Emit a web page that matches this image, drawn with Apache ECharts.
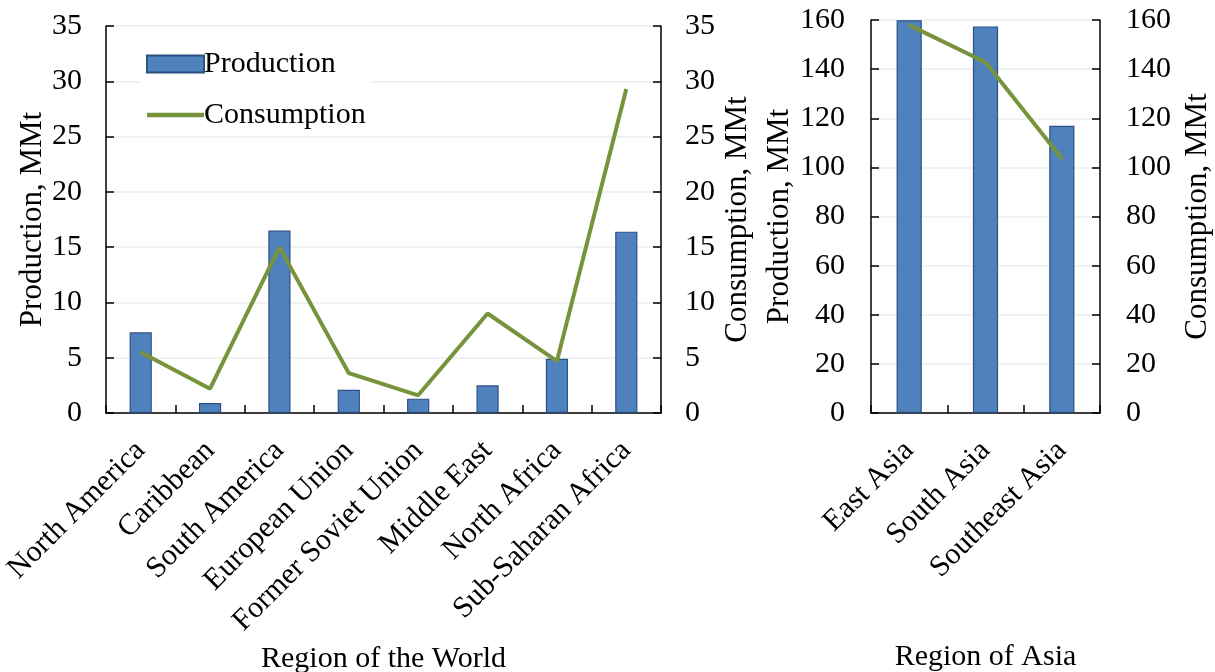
<!DOCTYPE html>
<html>
<head>
<meta charset="utf-8">
<script src="https://cdn.jsdelivr.net/npm/echarts@6/dist/echarts.min.js"></script>
<style>html,body{margin:0;padding:0;background:#fff}#c{width:1215px;height:672px}</style>
</head>
<body>
<div id="c"></div>
<script>
const worldCategories = ['North America','Caribbean','South America','European Union','Former Soviet Union','Middle East','North Africa','Sub-Saharan Africa'];
const worldProduction = [7.3, 0.9, 16.5, 2.1, 1.3, 2.5, 4.9, 16.4];
const worldConsumption = [5.5, 2.2, 15.0, 3.6, 1.6, 9.0, 4.7, 29.3];
const asiaCategories = ['East Asia','South Asia','Southeast Asia'];
const asiaProduction = [159.9, 157.4, 116.9];
const asiaConsumption = [157.9, 142.8, 103.6];
const worldAxis = {min: 0, max: 35, interval: 5};
const asiaAxis = {min: 0, max: 160, interval: 20};

const FONT = 'Liberation Serif';
const FS = 30;
const barColor = '#4f81bd', barBorder = '#2c5283', lineColor = '#77933c';

function yAxis(gridIndex, pos, ax, name, nameGap, labelMargin) {
  return {
    type: 'value', gridIndex, position: pos, min: ax.min, max: ax.max, interval: ax.interval,
    name, nameLocation: 'middle', nameGap, nameRotate: 90,
    nameTextStyle: {fontFamily: FONT, fontSize: 31, color: '#000'},
    axisLine: {show: true, lineStyle: {color: '#000', width: 1.5}},
    axisTick: {show: true, inside: true, length: 8, lineStyle: {color: '#000', width: 1.5}},
    axisLabel: {fontFamily: FONT, fontSize: FS, color: '#000', margin: labelMargin},
    splitLine: {show: pos === 'left', lineStyle: {color: '#ececec', width: 1.5}}
  };
}
function xAxis(gridIndex, cats, name, nameGap) {
  return {
    type: 'category', gridIndex, data: cats, boundaryGap: true,
    name, nameLocation: 'middle', nameGap,
    nameTextStyle: {fontFamily: FONT, fontSize: FS, color: '#000'},
    axisLine: {show: true, lineStyle: {color: '#000', width: 1.5}},
    axisTick: {show: true, inside: true, length: 8, alignWithLabel: false, lineStyle: {color: '#000', width: 1.5}},
    axisLabel: {fontFamily: FONT, fontSize: FS, color: '#000', rotate: 45, margin: 33, interval: 0}
  };
}

const chart = echarts.init(document.getElementById('c'), null, {renderer: 'canvas'});
chart.setOption({
  animation: false,
  backgroundColor: '#fff',
  grid: [
    {left: 106, right: 1215 - 661, top: 26, bottom: 672 - 413, outerBoundsMode: 'none', containLabel: false},
    {left: 871, right: 1215 - 1100, top: 20, bottom: 672 - 413, outerBoundsMode: 'none', containLabel: false}
  ],
  legend: {
    orient: 'vertical', left: 140, top: 45, itemWidth: 57, itemHeight: 17, itemGap: 21,
    backgroundColor: '#fff', padding: [4, 6, 4, 6],
    textStyle: {fontFamily: FONT, fontSize: FS, color: '#000', padding: [0, 0, 0, -5]},
    data: [
      {name: 'Production', icon: 'rect'},
      {name: 'Consumption', icon: 'path://M0,0 L57,0 L57,4.5 L0,4.5 Z', itemStyle: {color: lineColor}}
    ]
  },
  xAxis: [
    xAxis(0, worldCategories, 'Region of the World', 229),
    xAxis(1, asiaCategories, 'Region of Asia', 229)
  ],
  yAxis: [
    yAxis(0, 'left', worldAxis, 'Production, MMt', 58, 24),
    yAxis(0, 'right', worldAxis, 'Consumption, MMt', 61, 24),
    yAxis(1, 'left', asiaAxis, 'Production, MMt', 76, 26),
    yAxis(1, 'right', asiaAxis, 'Consumption, MMt', 82, 26)
  ],
  series: [
    {name: 'Production', type: 'bar', xAxisIndex: 0, yAxisIndex: 0, data: worldProduction, barWidth: '32%',
     itemStyle: {color: barColor, borderColor: barBorder, borderWidth: 1.2}},
    {name: 'Consumption', type: 'line', xAxisIndex: 0, yAxisIndex: 1, data: worldConsumption, symbol: 'none',
     lineStyle: {color: lineColor, width: 4}, itemStyle: {color: lineColor}},
    {name: 'Production', type: 'bar', xAxisIndex: 1, yAxisIndex: 2, data: asiaProduction, barWidth: '33%',
     itemStyle: {color: barColor, borderColor: barBorder, borderWidth: 1.2}},
    {name: 'Consumption', type: 'line', xAxisIndex: 1, yAxisIndex: 3, data: asiaConsumption, symbol: 'none',
     lineStyle: {color: lineColor, width: 4}, itemStyle: {color: lineColor}}
  ]
});
</script>
</body>
</html>
